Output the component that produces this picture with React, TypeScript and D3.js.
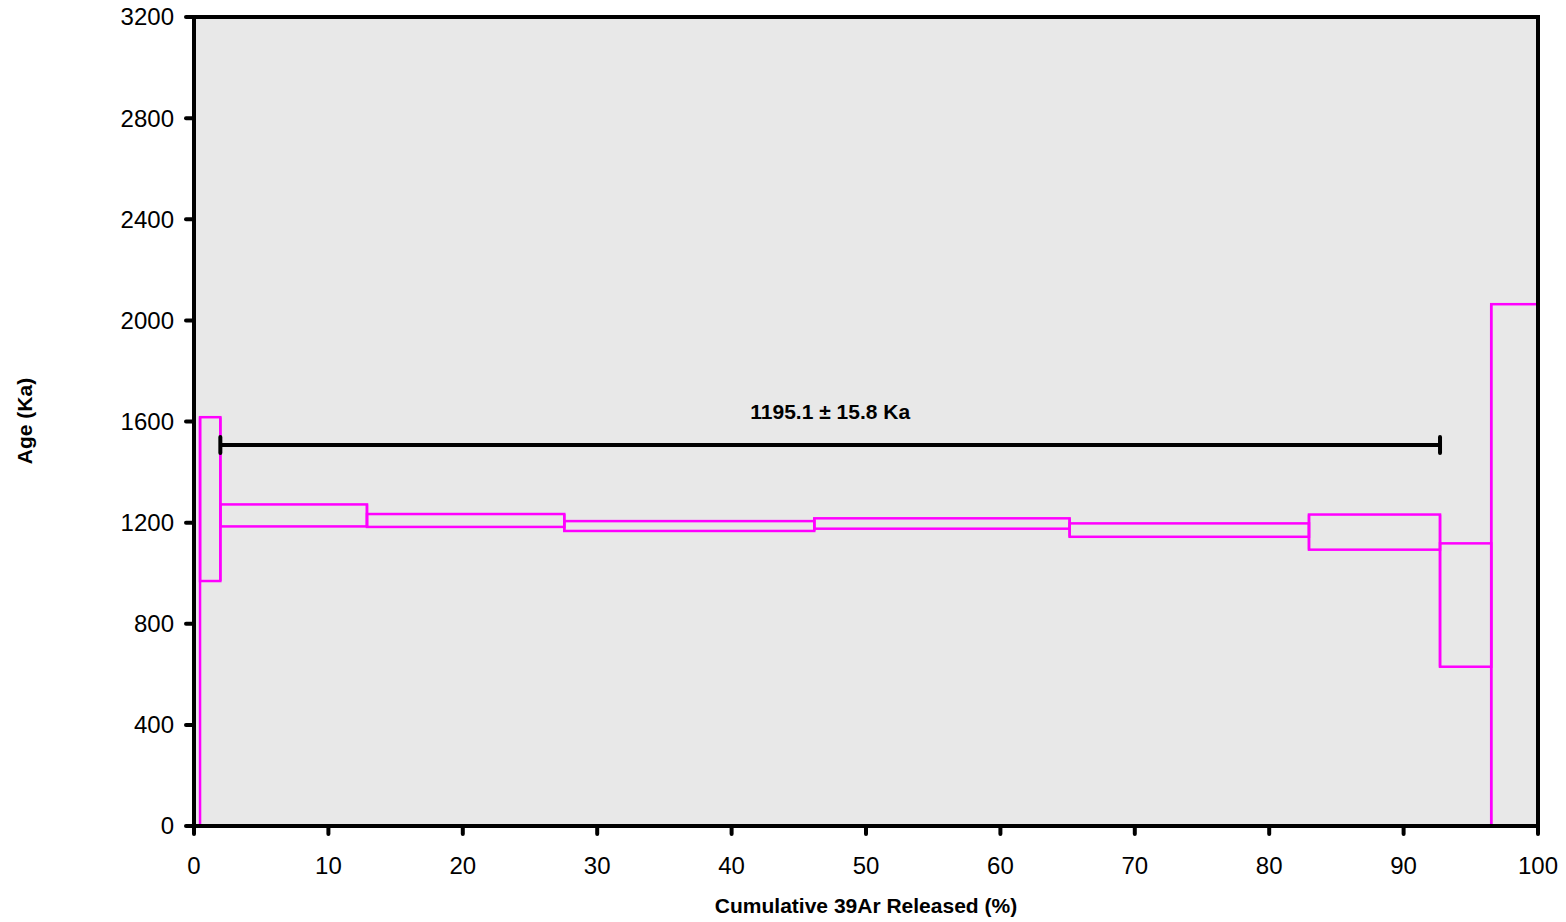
import React from "react";
import * as d3 from "d3";

// Step boundaries (cumulative % 39Ar released) and the 1-sigma age envelope of each step (Ka)
const stepStart = [0, 0.45, 1.96, 12.87, 27.55, 46.15, 65.15, 82.96, 92.71, 96.52];
const stepEnd = [0.45, 1.96, 12.87, 27.55, 46.15, 65.15, 82.96, 92.71, 96.52, 100];
const ageHigh = [0, 1617, 1272, 1234, 1206, 1217, 1197, 1232, 1118, 2064];
const ageLow = [0, 969, 1185, 1183, 1167, 1176, 1144, 1093, 630, 0];

// Plateau
const plateauFrom = 1.96;
const plateauTo = 92.71;
const plateauLevel = 1507;
const plateauLabel = "1195.1 ± 15.8 Ka";

const xTicks = [0, 10, 20, 30, 40, 50, 60, 70, 80, 90, 100];
const yTicks = [0, 400, 800, 1200, 1600, 2000, 2400, 2800, 3200];

const W = 1566;
const H = 922;
const left = 194;
const right = 1538;
const top = 17;
const bottom = 826;

export default function App() {
  const x = d3.scaleLinear().domain([0, 100]).range([left, right]);
  const y = d3.scaleLinear().domain([0, 3200]).range([bottom, top]);

  const font = "Arial, 'Liberation Sans', Helvetica, sans-serif";

  // vertical joins between neighbouring steps span both envelopes
  const joins = stepStart.slice(1).map((s, k) => ({
    at: s,
    lo: Math.min(ageLow[k], ageLow[k + 1]),
    hi: Math.max(ageHigh[k], ageHigh[k + 1]),
  }));

  return (
    <svg
      width={W}
      height={H}
      style={{ position: "absolute", left: 0, top: 0, background: "#fff" }}
      fontFamily={font}
    >
      <defs>
        <clipPath id="plotClip">
          <rect x={left} y={top} width={right - left} height={bottom - top} />
        </clipPath>
      </defs>
      <rect x={left} y={top} width={right - left} height={bottom - top} fill="#e8e8e8" />

      {/* one box per heating step */}
      <g clipPath="url(#plotClip)" stroke="#ff00ff" strokeWidth={2.5} fill="none">
        {stepStart.map((s, i) => (
          <rect
            key={i}
            x={x(s)}
            y={y(ageHigh[i])}
            width={x(stepEnd[i]) - x(s)}
            height={y(ageLow[i]) - y(ageHigh[i])}
          />
        ))}
        {joins.map((j, k) => (
          <line key={k} x1={x(j.at)} x2={x(j.at)} y1={y(j.lo)} y2={y(j.hi)} />
        ))}
      </g>

      {/* plateau bar */}
      <line
        x1={x(plateauFrom)}
        x2={x(plateauTo)}
        y1={y(plateauLevel)}
        y2={y(plateauLevel)}
        stroke="#000"
        strokeWidth={4}
      />
      {[plateauFrom, plateauTo].map((v) => (
        <line
          key={v}
          x1={x(v)}
          x2={x(v)}
          y1={y(plateauLevel) - 8}
          y2={y(plateauLevel) + 8}
          stroke="#000"
          strokeWidth={4}
          strokeLinecap="round"
        />
      ))}
      <text
        x={x((plateauFrom + plateauTo) / 2)}
        y={419}
        textAnchor="middle"
        fontSize={21}
        fontWeight="bold"
      >
        {plateauLabel}
      </text>

      {/* frame */}
      <rect
        x={left}
        y={top}
        width={right - left}
        height={bottom - top}
        fill="none"
        stroke="#000"
        strokeWidth={4}
      />

      {/* y axis */}
      {yTicks.map((t) => (
        <g key={t}>
          <line x1={left - 8} x2={left} y1={y(t)} y2={y(t)} stroke="#000" strokeWidth={4} strokeLinecap="round" />
          <text x={174} y={y(t)} dy="0.35em" textAnchor="end" fontSize={24}>
            {t}
          </text>
        </g>
      ))}

      {/* x axis */}
      {xTicks.map((t) => (
        <g key={t}>
          <line x1={x(t)} x2={x(t)} y1={bottom} y2={bottom + 8} stroke="#000" strokeWidth={4} strokeLinecap="round" />
          <text x={x(t)} y={874} textAnchor="middle" fontSize={24}>
            {t}
          </text>
        </g>
      ))}

      <text x={866} y={913} textAnchor="middle" fontSize={21} fontWeight="bold">
        Cumulative 39Ar Released (%)
      </text>
      <text
        transform={`translate(32, 421) rotate(-90)`}
        textAnchor="middle"
        fontSize={21}
        fontWeight="bold"
      >
        Age (Ka)
      </text>
    </svg>
  );
}
